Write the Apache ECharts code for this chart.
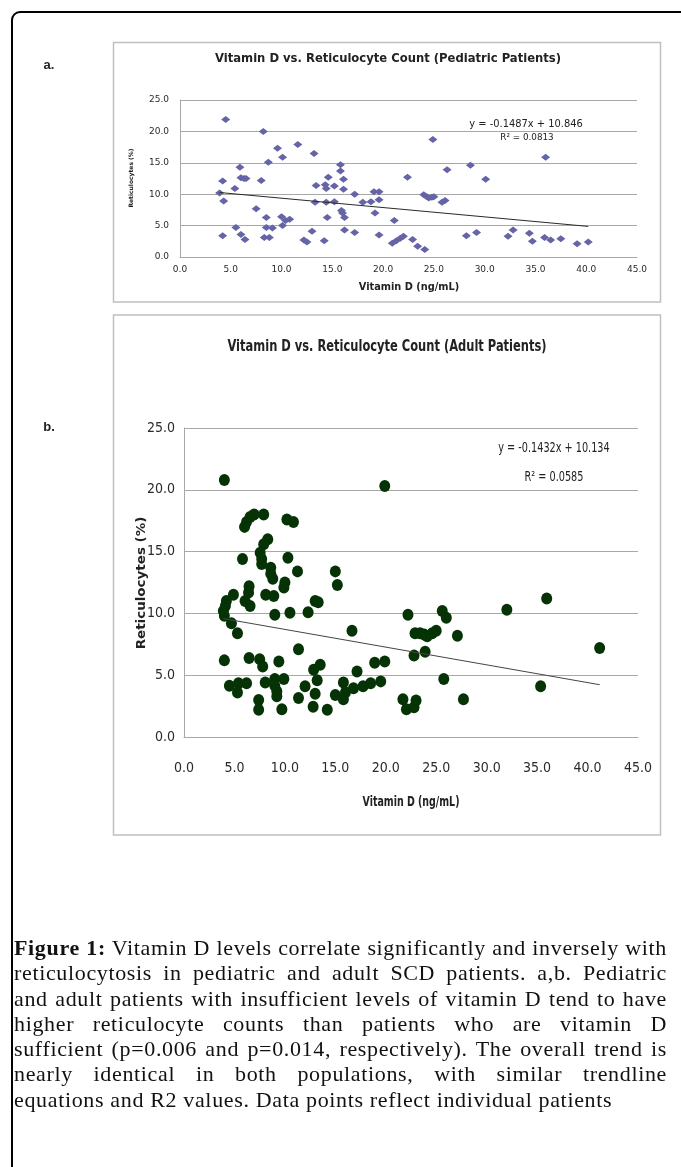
<!DOCTYPE html>
<html>
<head>
<meta charset="utf-8">
<title>Vitamin D vs. Reticulocyte Count</title>
<script src="https://cdn.jsdelivr.net/npm/echarts@6/dist/echarts.min.js"></script>
<style>
    html, body { margin: 0; padding: 0; background: #fff; }
    #main { position: absolute; left: 0; top: 0; width: 681px; height: 1167px; }
    #caption {
        position: absolute; left: 14px; top: 935px; width: 653px;
        font-family: 'Liberation Serif', serif; font-size: 22px; line-height: 25.3px;
        letter-spacing: 0.65px; color: #111;
    }
    #caption div { text-align: justify; text-align-last: justify; }
    #caption div.last { text-align-last: left; }
</style>
</head>
<body>
<div id="main"></div>
<div id="caption">
    <div><b>Figure 1:</b> Vitamin D levels correlate significantly and inversely with</div>
    <div>reticulocytosis in pediatric and adult SCD patients. a,b. Pediatric</div>
    <div>and adult patients with insufficient levels of vitamin D tend to have</div>
    <div>higher reticulocyte counts than patients who are vitamin D</div>
    <div>sufficient (p=0.006 and p=0.014, respectively). The overall trend is</div>
    <div>nearly identical in both populations, with similar trendline</div>
    <div class="last">equations and R2 values. Data points reflect individual patients</div>
</div>
<script>
(function() {
    // tick labels (same on both panels)
    var xTickLabels = ['0.0', '5.0', '10.0', '15.0', '20.0', '25.0', '30.0', '35.0', '40.0', '45.0'];
    var yTickLabels = ['0.0', '5.0', '10.0', '15.0', '20.0', '25.0'];

    // a. pediatric patients
    var pedVitD = [4.5, 8.2, 11.6, 9.6, 10.1, 13.2, 8.7, 5.9, 4.2, 6.0, 6.3, 6.5, 8.0, 3.9, 5.4, 4.3, 7.5, 8.5, 10.0, 10.4,
        10.8, 10.1, 5.5, 8.5, 9.1, 4.2, 6.0, 6.4, 8.3, 8.8, 12.2, 12.5, 13.0, 13.4, 13.3, 14.2, 14.3, 14.4, 14.6, 14.4,
        14.5, 15.2, 15.2, 15.8, 15.8, 16.1, 16.1, 15.9, 16.0, 16.2, 16.2, 17.2, 17.2, 18.0, 18.8, 19.6, 19.1, 19.6, 19.2, 19.6,
        21.1, 22.4, 20.9, 21.3, 21.7, 22.0, 22.9, 23.4, 24.1, 24.0, 24.3, 24.5, 24.8, 25.0, 24.9, 25.8, 26.1, 26.3, 28.6, 28.2,
        29.2, 30.1, 32.3, 32.8, 34.4, 34.7, 36.0, 35.9, 36.5, 37.5, 39.1, 40.2];
    var pedRetic = [21.9, 20.0, 17.9, 17.3, 15.9, 16.5, 15.1, 14.3, 12.1, 12.6, 12.5, 12.5, 12.2, 10.2, 10.9, 8.9, 7.7, 6.3, 6.4, 5.8,
        6.0, 5.0, 4.7, 4.7, 4.6, 3.4, 3.6, 2.8, 3.1, 3.1, 2.7, 2.4, 4.1, 11.4, 8.7, 2.6, 11.5, 10.9, 12.7, 8.7,
        6.3, 11.3, 8.8, 14.7, 13.7, 12.4, 10.8, 7.4, 7.0, 6.3, 4.3, 10.0, 3.9, 8.7, 8.8, 9.1, 10.4, 10.4, 7.0, 3.5,
        5.8, 12.7, 2.2, 2.6, 3.0, 3.3, 2.8, 1.7, 1.2, 9.9, 9.6, 9.4, 9.5, 9.6, 18.7, 8.7, 9.0, 13.9, 14.6, 3.4,
        3.9, 12.4, 3.3, 4.3, 3.8, 2.5, 15.9, 3.1, 2.7, 2.9, 2.1, 2.4];
    var pedTrendX = [3.9, 40.2];
    var pedTrendY = [10.27, 4.87];

    // b. adult patients
    var adultVitD = [4.0, 19.9, 6.0, 6.2, 6.55, 6.95, 7.9, 10.2, 10.85, 8.3, 7.9, 7.55, 7.7, 7.7, 5.8, 10.3, 8.6, 8.6, 8.8, 11.25,
        10.0, 9.9, 6.45, 6.4, 15.0, 15.2, 4.9, 4.2, 4.1, 3.9, 4.0, 6.05, 6.55, 8.1, 8.9, 9.0, 10.5, 12.3, 13.0, 13.3,
        4.7, 5.3, 16.65, 11.35, 4.0, 6.45, 7.5, 7.8, 9.4, 13.5, 12.85, 13.2, 17.15, 18.9, 19.9, 4.5, 5.4, 5.3, 6.2, 8.05,
        9.0, 9.2, 9.9, 9.0, 9.2, 7.4, 7.4, 9.7, 11.35, 12.0, 12.8, 13.0, 14.2, 15.0, 15.8, 16.0, 16.8, 15.8, 17.75, 18.5,
        19.5, 22.2, 25.6, 26.0, 32.0, 35.95, 22.9, 23.4, 23.8, 24.1, 24.6, 25.0, 27.1, 23.9, 22.8, 25.75, 21.7, 22.05, 23.0, 22.8,
        27.7, 35.35, 41.2];
    var adultRetic = [20.8, 20.3, 17.0, 17.4, 17.8, 18.0, 18.0, 17.6, 17.4, 16.0, 15.6, 14.9, 14.4, 14.0, 14.4, 14.5, 13.7, 13.2, 12.8, 13.4,
        12.5, 12.1, 12.2, 11.7, 13.4, 12.3, 11.5, 11.0, 10.6, 10.2, 9.8, 11.0, 10.6, 11.5, 11.4, 9.9, 10.05, 10.1, 11.0, 10.9,
        9.2, 8.4, 8.6, 7.1, 6.2, 6.4, 6.3, 5.7, 6.1, 5.85, 5.45, 4.6, 5.3, 6.0, 6.1, 4.15, 4.35, 3.6, 4.35, 4.4,
        4.7, 3.7, 4.7, 4.15, 3.3, 3.0, 2.2, 2.25, 3.15, 4.1, 2.45, 3.5, 2.2, 3.4, 4.4, 3.6, 3.95, 3.05, 4.1, 4.35,
        4.5, 9.9, 10.2, 9.65, 10.3, 11.2, 8.4, 8.4, 8.3, 8.15, 8.4, 8.6, 8.2, 6.9, 6.6, 4.7, 3.05, 2.25, 2.95, 2.4,
        3.05, 4.1, 7.2];
    var adultTrendX = [3.9, 41.2];
    var adultTrendY = [9.58, 4.23];

    function zip(xs, ys) {
        var out = [];
        for (var i = 0; i < xs.length; i++) {
            out.push([xs[i], ys[i]]);
        }
        return out;
    }

    var smallFont = 'DejaVu Sans';
    var narrowFont = "'DejaVu Sans Condensed', sans-serif";
    var gridColor = '#a8a8a8';

    function valueAxis(gridIndex, max, labels, font, size, margin) {
        return {
            gridIndex: gridIndex,
            type: 'value',
            min: 0,
            max: max,
            interval: 5,
            axisLine: { show: true, lineStyle: { color: gridColor, width: 1 } },
            axisTick: { show: false },
            splitLine: { show: false },
            axisLabel: {
                showMinLabel: true,
                showMaxLabel: true,
                margin: margin,
                fontFamily: font,
                fontSize: size,
                color: '#2a2a2a',
                formatter: function(v, i) { return labels[Math.round(v / 5)]; }
            }
        };
    }

    var xA = valueAxis(0, 45, xTickLabels, smallFont, 9, 8);
    var yA = valueAxis(0, 25, yTickLabels, smallFont, 9, 11);
    yA.splitLine = { show: true, lineStyle: { color: gridColor, width: 1 } };
    var xB = valueAxis(1, 45, xTickLabels, narrowFont, 14, 24);
    var yB = valueAxis(1, 25, yTickLabels, narrowFont, 14, 9);
    yB.splitLine = { show: true, lineStyle: { color: gridColor, width: 1 } };

    // sx: horizontal squeeze to imitate the narrow font of panel b
    function label(x, y, text, size, family, weight, rot, sx) {
        return {
            type: 'text', x: x, y: y, rotation: rot || 0, scaleX: sx || 1, z: 10,
            style: {
                text: text, fontSize: size, fontFamily: family, fontWeight: weight || 'normal',
                fill: '#222', align: 'center', verticalAlign: 'middle'
            }
        };
    }

    var myChart = echarts.init(document.getElementById('main'));
    myChart.setOption({
        animation: false,
        backgroundColor: '#fff',
        grid: [
            { left: 180, top: 100, width: 457, height: 157 },
            { left: 184, top: 428, width: 454, height: 309 }
        ],
        xAxis: [xA, xB],
        yAxis: [yA, yB],
        graphic: [
            // outer frame (only left/top edges fall inside the page)
            { type: 'rect', shape: { x: 12, y: 12, width: 740, height: 1220, r: 8 },
              style: { fill: 'none', stroke: '#000', lineWidth: 2 } },
            { type: 'rect', shape: { x: 113.5, y: 42.5, width: 547, height: 259.5 },
              style: { fill: 'none', stroke: '#c0c0c0', lineWidth: 1.5 } },
            { type: 'rect', shape: { x: 113.5, y: 315, width: 547, height: 520 },
              style: { fill: 'none', stroke: '#c0c0c0', lineWidth: 1.5 } },
            label(49, 65, 'a.', 13, "'Liberation Sans', Arial", 'bold'),
            label(49, 427, 'b.', 13, "'Liberation Sans', Arial", 'bold'),
            label(388, 59, 'Vitamin D vs. Reticulocyte Count (Pediatric Patients)', 11.6, smallFont, 'bold'),
            label(409, 287, 'Vitamin D (ng/mL)', 9.8, smallFont, 'bold'),
            label(131, 178, 'Reticulocytes (%)', 6, smallFont, 'bold', Math.PI / 2),
            label(526, 124, 'y = -0.1487x + 10.846', 9.9, smallFont),
            label(527, 138, 'R² = 0.0813', 8.8, smallFont),
            label(387, 347, 'Vitamin D vs. Reticulocyte Count (Adult Patients)', 15, narrowFont, 'bold', 0, 0.85),
            label(411, 802, 'Vitamin D (ng/mL)', 14, narrowFont, 'bold', 0, 0.75),
            label(142, 583, 'Reticulocytes (%)', 13, narrowFont, 'bold', Math.PI / 2, 1.15),
            label(554, 448, 'y = -0.1432x + 10.134', 14, narrowFont, 'normal', 0, 0.77),
            label(554, 477, 'R² = 0.0585', 14, narrowFont, 'normal', 0, 0.77)
        ],
        series: [{
            name: 'Pediatric',
            type: 'scatter',
            xAxisIndex: 0,
            yAxisIndex: 0,
            symbol: 'diamond',
            symbolSize: [9, 7],
            itemStyle: { color: '#6464a6', opacity: 1 },
            data: zip(pedVitD, pedRetic)
        }, {
            name: 'Pediatric trend',
            type: 'line',
            xAxisIndex: 0,
            yAxisIndex: 0,
            symbol: 'none',
            lineStyle: { color: '#2a2a2a', width: 1 },
            data: zip(pedTrendX, pedTrendY)
        }, {
            name: 'Adult',
            type: 'scatter',
            xAxisIndex: 1,
            yAxisIndex: 1,
            symbol: 'circle',
            symbolSize: [11, 12],
            itemStyle: { color: '#053305', opacity: 1 },
            data: zip(adultVitD, adultRetic)
        }, {
            name: 'Adult trend',
            type: 'line',
            xAxisIndex: 1,
            yAxisIndex: 1,
            symbol: 'none',
            lineStyle: { color: '#444', width: 1 },
            data: zip(adultTrendX, adultTrendY)
        }]
    });
})();
</script>
</body>
</html>
